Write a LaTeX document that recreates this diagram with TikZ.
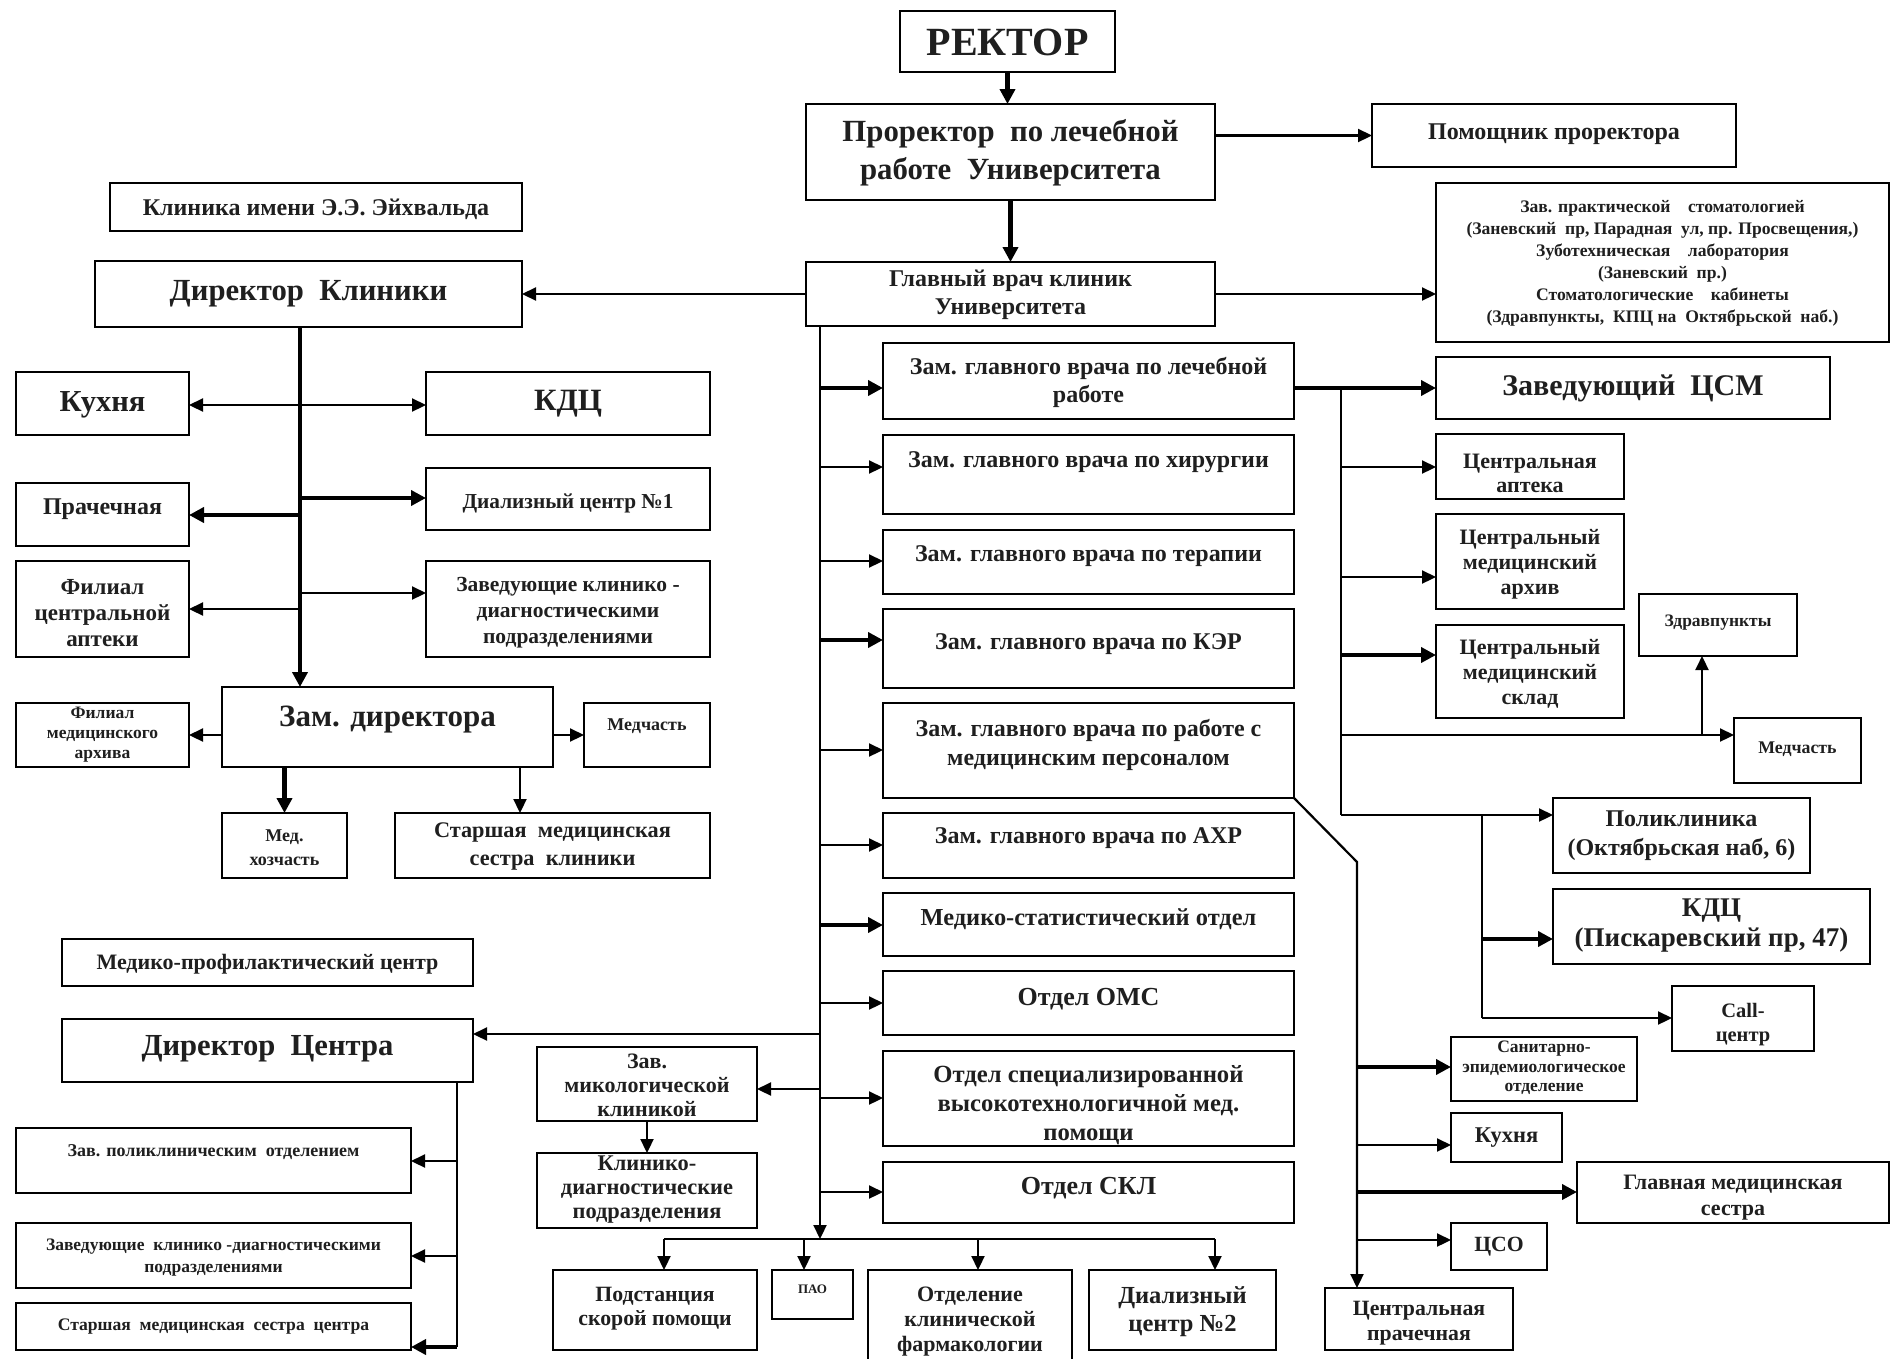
\documentclass[tikz,border=0pt]{standalone}
\usepackage{fontspec}
\setmainfont{Liberation Serif}
\usetikzlibrary{arrows.meta,calc}
\tikzset{
 box/.style={draw=black,line width=2.6pt,inner sep=0pt,outer sep=0pt,fill=white},
 txt/.style={inner sep=0pt,align=center,text=black!88},
 ln/.style={line width=2.2pt},
 lnT/.style={line width=4.6pt},
 arr/.style={ln,-{Triangle[length=14pt,width=13pt]}},
 arrT/.style={lnT,-{Triangle[length=15pt,width=15pt]}},
}
\newcommand\fs[2]{\fontsize{#1}{#2}\selectfont\bfseries}
\newcommand\bx[9]{%
 \node[box,minimum width={#4-#2},minimum height={#5-#3}] (#1) at ({(#2+#4)/2},{(#3+#5)/2}) {};
 \node[txt,font=\fs{#7}{#8}] (#1t) at ({(#2+#4)/2},#6) {#9};}
\begin{document}
\begin{tikzpicture}[x=1pt,y=-1pt]
\fill[white] (0,0) rectangle (1891,1358);
\useasboundingbox (0,0) rectangle (1891,1358);
% top
\bx{rektor}{900}{11}{1115}{72}{42}{40}{40}{РЕКТОР}
\bx{prorec}{806}{104}{1215}{200}{153}{30.8}{38}{Проректор~ по лечебной\\работе~ Университета}
\bx{glav}{806}{262}{1215}{326}{295}{24}{28}{Главный врач клиник\\Университета}
\bx{pomosh}{1372}{104}{1736}{167}{134}{24}{26}{Помощник проректора}
\bx{stomat}{1436}{183}{1889}{342}{263}{17.6}{22}{Зав. практической\quad стоматологией\\(Заневский~ пр, Парадная~ ул, пр. Просвещения,)\\Зуботехническая\quad лаборатория\\(Заневский~ пр.)\\Стоматологические\quad кабинеты\\(Здравпункты,~ КПЦ на~ Октябрьской~ наб.)}
% left clinic
\bx{klinEE}{110}{183}{522}{231}{209}{24}{26}{Клиника имени Э.Э. Эйхвальда}
\bx{dirKl}{95}{261}{522}{327}{294}{30.7}{34}{Директор~ Клиники}
\bx{kuh1}{16}{372}{189}{435}{405}{30.5}{32}{Кухня}
\bx{kdc1}{426}{372}{710}{435}{404}{31}{32}{КДЦ}
\bx{prach1}{16}{483}{189}{546}{509}{24}{26}{Прачечная}
\bx{dial1}{426}{468}{710}{530}{503}{21.3}{24}{Диализный центр №1}
\bx{filAp}{16}{561}{189}{657}{613}{23}{26}{Филиал\\центральной\\аптеки}
\bx{zavKD}{426}{561}{710}{657}{613}{21.5}{26}{Заведующие клинико -\\диагностическими\\подразделениями}
\bx{zamDir}{222}{687}{553}{767}{720}{31}{34}{Зам. директора}
\bx{filArh}{16}{703}{189}{767}{735}{17.5}{20}{Филиал\\медицинского\\архива}
\bx{medch1}{584}{703}{710}{767}{726}{18}{18}{Медчасть}
\bx{medhoz}{222}{813}{347}{878}{848}{18}{24}{Мед.\\хозчасть}
\bx{stSK}{395}{813}{710}{878}{846}{22.3}{28}{Старшая~ медицинская\\сестра~ клиники}
% left centre
\bx{mpc}{62}{939}{473}{986}{964}{22}{24}{Медико-профилактический центр}
\bx{dirC}{62}{1019}{473}{1082}{1049}{30.6}{34}{Директор~ Центра}
\bx{zavPol}{16}{1128}{411}{1193}{1152}{18}{20}{Зав. поликлиническим~ отделением}
\bx{zavKD2}{16}{1223}{411}{1288}{1258}{17.5}{22}{Заведующие~ клинико -диагностическими\\подразделениями}
\bx{stSC}{16}{1303}{411}{1350}{1327}{17.6}{20}{Старшая~ медицинская~ сестра~ центра}
% middle bottom
\bx{mycol}{537}{1047}{757}{1121}{1085}{22}{24}{Зав.\\микологической\\клиникой}
\bx{klD}{537}{1153}{757}{1228}{1190}{22.4}{24}{Клинико-\\диагностические\\подразделения}
\bx{podst}{553}{1270}{757}{1350}{1309}{21.8}{24}{Подстанция\\скорой помощи}
\bx{pao}{772}{1270}{853}{1319}{1289}{13}{14}{ПАО}
\bx{farm}{868}{1270}{1072}{1375}{1322}{22}{25}{Отделение\\клинической\\фармакологии}
\bx{dial2}{1089}{1270}{1276}{1350}{1312}{24.5}{28}{Диализный\\центр №2}
\bx{cPrach}{1325}{1288}{1513}{1350}{1323}{21.8}{25}{Центральная\\прачечная}
% deputies
\bx{zLech}{883}{343}{1294}{419}{382}{24}{28}{Зам. главного врача по лечебной\\работе}
\bx{zHir}{883}{435}{1294}{514}{462}{24}{26}{Зам. главного врача по хирургии}
\bx{zTer}{883}{530}{1294}{594}{556}{24}{26}{Зам. главного врача по терапии}
\bx{zKER}{883}{609}{1294}{688}{644}{24}{26}{Зам. главного врача по КЭР}
\bx{zPers}{883}{703}{1294}{798}{745}{24}{29}{Зам. главного врача по работе с\\медицинским персоналом}
\bx{zAHR}{883}{813}{1294}{878}{838}{24}{26}{Зам. главного врача по АХР}
\bx{mStat}{883}{893}{1294}{956}{919}{24.4}{26}{Медико-статистический отдел}
\bx{oms}{883}{971}{1294}{1035}{999}{26}{30}{Отдел ОМС}
\bx{spec}{883}{1051}{1294}{1146}{1105}{24.7}{29}{Отдел специализированной\\высокотехнологичной мед.\\помощи}
\bx{skl}{883}{1162}{1294}{1223}{1188}{26}{30}{Отдел СКЛ}
% right
\bx{csm}{1436}{357}{1830}{419}{388}{30}{34}{Заведующий~ ЦСМ}
\bx{apt}{1436}{434}{1624}{499}{473}{22}{24}{Центральная\\аптека}
\bx{arh}{1436}{514}{1624}{609}{564}{22}{25}{Центральный\\медицинский\\архив}
\bx{sklad}{1436}{625}{1624}{718}{674}{22}{25}{Центральный\\медицинский\\склад}
\bx{zdrav}{1639}{594}{1797}{656}{623}{17.5}{18}{Здравпункты}
\bx{medch2}{1734}{718}{1861}{783}{749}{17.8}{18}{Медчасть}
\bx{polik}{1553}{798}{1810}{873}{836}{24}{29}{Поликлиника\\(Октябрьская наб, 6)}
\bx{kdc2}{1553}{889}{1870}{964}{926}{27}{30}{КДЦ\\(Пискаревский пр, 47)}
\bx{call}{1672}{986}{1814}{1051}{1025}{20.5}{24}{Call-\\центр}
\bx{sanit}{1451}{1037}{1637}{1101}{1068}{17.5}{19.5}{Санитарно-\\эпидемиологическое\\отделение}
\bx{kuh2}{1451}{1113}{1562}{1162}{1138}{22.5}{24}{Кухня}
\bx{glavS}{1577}{1162}{1889}{1223}{1198}{22}{26}{Главная медицинская\\сестра}
\bx{cso}{1451}{1223}{1547}{1270}{1247}{21.7}{24}{ЦСО}
% ---- connectors ----
\draw[arrT] (rektor.south) -- (rektor.south |- prorec.north);
\draw[arrT] (prorec.south) -- (glav.north);
\draw[arr] (pomosh.west -| prorec.east) -- (pomosh.west);
\draw[arr] (glav.west) -- (dirKl.east);
\draw[arr] (glav.east) -- (glav.east -| stomat.west);
% main trunk
\coordinate (mT) at (820,326);
\coordinate (mB) at (820,1239);
\draw[arr] (mT) -- (mB);
\coordinate (bL) at (664,1239);
\coordinate (bP) at (804,1239);
\coordinate (bF) at (978,1239);
\coordinate (bR) at (1215,1239);
\draw[ln] (bL) -- (bR);
\draw[arr] (bL) -- (bL |- podst.north);
\draw[arr] (bP) -- (bP |- pao.north);
\draw[arr] (bF) -- (bF |- farm.north);
\draw[arr] (bR) -- (bR |- dial2.north);
\foreach \y/\t/\s in {388/zLech/arrT, 467/zHir/arr, 561/zTer/arr, 640/zKER/arrT, 750/zPers/arr, 845/zAHR/arr, 925/mStat/arrT, 1003/oms/arr, 1098/spec/arr, 1192/skl/arr}{
  \coordinate (m\t) at (820,\y);
  \draw[\s] (m\t) -- (m\t -| \t.west);
}
\coordinate (mC) at (820,1034);
\draw[arr] (mC) -- (mC -| dirC.east);
\coordinate (mM) at (820,1089);
\draw[arr] (mM) -- (mM -| mycol.east);
\draw[arr] (mycol.south) -- (klD.north);
% director clinic
\coordinate (kT) at (300,327);
\draw[arrT] (kT) -- (kT |- zamDir.north);
\coordinate (k1) at (300,405);
\draw[arr] (k1) -- (k1 -| kuh1.east);
\draw[arr] (k1) -- (k1 -| kdc1.west);
\coordinate (k2) at (300,515);
\draw[arrT] (k2) -- (k2 -| prach1.east);
\coordinate (k3) at (300,498);
\draw[arrT] (k3) -- (k3 -| dial1.west);
\coordinate (k4) at (300,609);
\draw[arr] (k4) -- (k4 -| filAp.east);
\coordinate (k5) at (300,593);
\draw[arr] (k5) -- (k5 -| zavKD.west);
\draw[arr] (filArh.east -| zamDir.west) -- (filArh.east);
\draw[arr] (medch1.west -| zamDir.east) -- (medch1.west);
\draw[arrT] (zamDir.south -| medhoz.north) -- (medhoz.north);
\coordinate (zd) at (520,767);
\draw[arr] (zd) -- (zd |- stSK.north);
% director centre
\coordinate (cT) at (457,1082);
\coordinate (cB) at (457,1347);
\draw[ln] (cT) -- (cB);
\coordinate (c1) at (457,1161);
\draw[arr] (c1) -- (c1 -| zavPol.east);
\coordinate (c2) at (457,1256);
\draw[arr] (c2) -- (c2 -| zavKD2.east);
\draw[arrT] (cB) -- (cB -| stSC.east);
% right CSM branch
\draw[arrT] (csm.west -| zLech.east) -- (csm.west);
\coordinate (r0) at (1341,388);
\coordinate (r4) at (1341,815);
\draw[ln] (r0) -- (r4);
\coordinate (r1) at (1341,467);
\draw[arr] (r1) -- (r1 -| apt.west);
\coordinate (r2) at (1341,577);
\draw[arr] (r2) -- (r2 -| arh.west);
\coordinate (r3) at (1341,655);
\draw[arrT] (r3) -- (r3 -| sklad.west);
\coordinate (r5) at (1341,735);
\draw[arr] (r5) -- (r5 -| medch2.west);
\coordinate (zp) at (1702,735);
\draw[arr] (zp) -- (zp |- zdrav.south);
\draw[arr] (r4) -- (r4 -| polik.west);
\coordinate (p0) at (1482,815);
\coordinate (p2) at (1482,1018);
\draw[ln] (p0) -- (p2);
\draw[arr] (p2) -- (p2 -| call.west);
\coordinate (p1) at (1482,939);
\draw[arrT] (p1) -- (p1 -| kdc2.west);
% diagonal branch
\coordinate (dg) at (1357,862);
\draw[arr] (zPers.south east) -- (dg) -- (dg |- cPrach.north);
\coordinate (s1) at (1357,1067);
\draw[arrT] (s1) -- (s1 -| sanit.west);
\coordinate (s2) at (1357,1145);
\draw[arr] (s2) -- (s2 -| kuh2.west);
\coordinate (s3) at (1357,1192);
\draw[arrT] (s3) -- (s3 -| glavS.west);
\coordinate (s4) at (1357,1240);
\draw[arr] (s4) -- (s4 -| cso.west);
\end{tikzpicture}
\end{document}
